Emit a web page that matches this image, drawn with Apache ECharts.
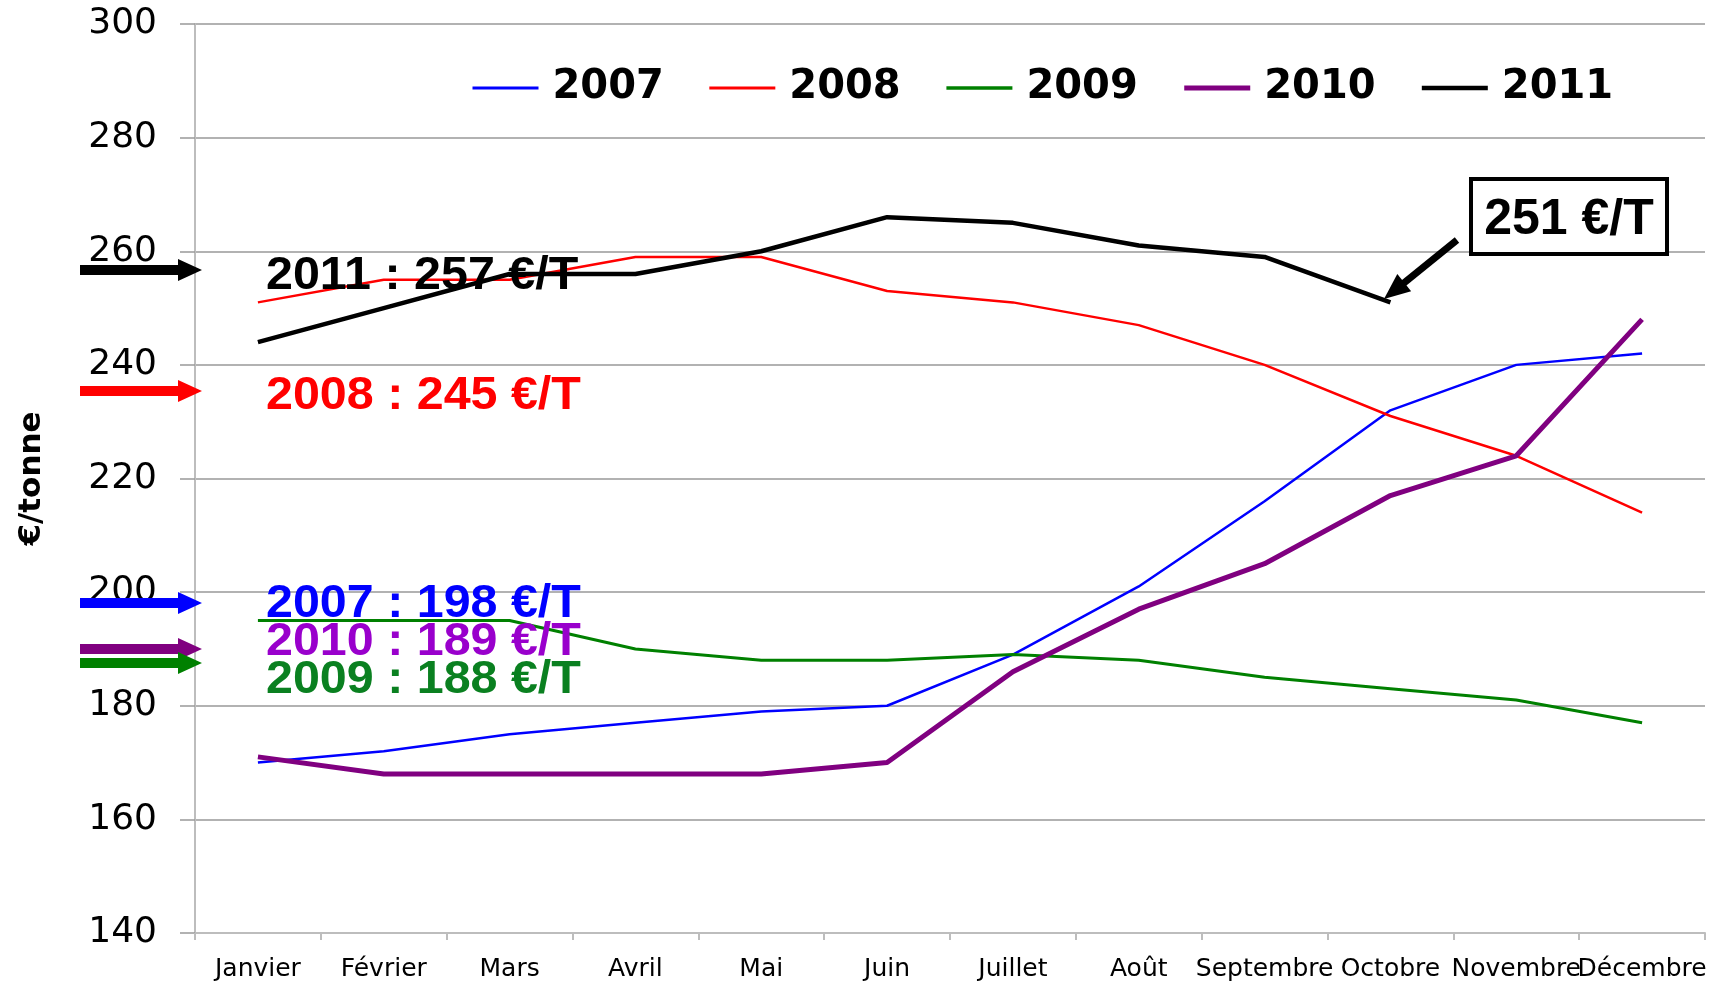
<!DOCTYPE html>
<html>
<head>
<meta charset="utf-8">
<script src="https://cdn.jsdelivr.net/npm/echarts@6/dist/echarts.min.js"></script>
<style>
  html, body { margin: 0; padding: 0; background: #fff; }
  #chart { width: 1713px; height: 984px; }
</style>
</head>
<body>
<div id="chart"></div>
<script>
const mois = ['Janvier', 'Février', 'Mars', 'Avril', 'Mai', 'Juin', 'Juillet', 'Août', 'Septembre', 'Octobre', 'Novembre', 'Décembre']
const annees = ['2007', '2008', '2009', '2010', '2011']
const ticksY = [140, 160, 180, 200, 220, 240, 260, 280, 300]

const prix2007 = [170, 172, 175, 177, 179, 180, 189, 201, 216, 232, 240, 242]
const prix2008 = [251, 255, 255, 259, 259, 253, 251, 247, 240, 231, 224, 214]
const prix2009 = [195, 195, 195, 190, 188, 188, 189, 188, 185, 183, 181, 177]
const prix2010 = [171, 168, 168, 168, 168, 170, 186, 197, 205, 217, 224, 248]
const prix2011 = [244, 250, 256, 256, 260, 266, 265, 261, 259, 251, null, null]

const couleurs = ['#0000ff', '#ff0000', '#008000', '#800080', '#000000']
const epaisseurs = [2.5, 2.5, 3, 5, 4.5]
const epaisseursLegende = [3, 3, 3.5, 5, 4.5]

// annotations a gauche : [texte, couleur texte, couleur fleche, y fleche, y texte]
const notes = [
    ['2011 : 257 €/T', '#000000', '#000000', 270, 276],
    ['2008 : 245 €/T', '#ff0000', '#ff0000', 391, 396],
    ['2007 : 198 €/T', '#0000ff', '#0000ff', 603, 604],
    ['2010 : 189 €/T', '#9900cc', '#800080', 649, 642],
    ['2009 : 188 €/T', '#0a8020', '#008000', 663, 680]
]

const flecheH = (x0, x1, y, couleur) => {
    const tete = 24, demi = 5, demiTete = 11
    return {
        type: 'polygon',
        shape: {
            points: [
                [x0, y - demi], [x1 - tete, y - demi], [x1 - tete, y - demiTete],
                [x1, y], [x1 - tete, y + demiTete], [x1 - tete, y + demi], [x0, y + demi]
            ]
        },
        style: { fill: couleur },
        z: 10
    }
}

const flecheDiag = (x0, y0, x1, y1) => {
    const dx = x1 - x0, dy = y1 - y0
    const l = Math.sqrt(dx * dx + dy * dy)
    const ux = dx / l, uy = dy / l
    const nx = -uy, ny = ux
    const tete = 26, demiTete = 11
    const bx = x1 - tete * ux, by = y1 - tete * uy
    return [{
        type: 'line',
        shape: { x1: x0, y1: y0, x2: bx + ux * 2, y2: by + uy * 2 },
        style: { stroke: '#000', lineWidth: 7 },
        z: 10
    }, {
        type: 'polygon',
        shape: { points: [[x1, y1], [bx + nx * demiTete, by + ny * demiTete], [bx - nx * demiTete, by - ny * demiTete]] },
        style: { fill: '#000' },
        z: 10
    }]
}

const series = [prix2007, prix2008, prix2009, prix2010, prix2011].map((data, i) => ({
    name: annees[i],
    type: 'line',
    data: data,
    symbol: 'none',
    lineStyle: { color: couleurs[i], width: epaisseurs[i] },
    itemStyle: { color: couleurs[i] },
    z: 2 + i
}))

const graphiques = []
notes.forEach(([texte, coulTexte, coulFleche, yFleche, yTexte]) => {
    graphiques.push(flecheH(80, 202, yFleche, coulFleche))
    graphiques.push({
        type: 'text',
        x: 266,
        y: yTexte,
        scaleX: 1.03,
        style: {
            text: texte,
            fill: coulTexte,
            font: 'bold 47px "Liberation Sans", Arial, sans-serif',
            textVerticalAlign: 'middle'
        },
        z: 11
    })
})
graphiques.push({
    type: 'rect',
    shape: { x: 1471, y: 179, width: 196, height: 75 },
    style: { fill: '#fff', stroke: '#000', lineWidth: 4 },
    z: 10
})
graphiques.push({
    type: 'text',
    x: 1569,
    y: 220,
    style: {
        text: '251 €/T',
        fill: '#000',
        font: 'bold 50px "Liberation Sans", Arial, sans-serif',
        textAlign: 'center',
        textVerticalAlign: 'middle'
    },
    z: 11
})
graphiques.push(...flecheDiag(1457, 240, 1384, 299))

const chart = echarts.init(document.getElementById('chart'))
chart.setOption({
    animation: false,
    backgroundColor: '#fff',
    grid: { left: 195, right: 8, top: 24, bottom: 51 },
    legend: {
        data: annees.map((a, i) => ({ name: a, lineStyle: { width: epaisseursLegende[i] } })),
        left: 466,
        top: 63,
        itemWidth: 66,
        itemHeight: 14,
        itemGap: 44,
        itemStyle: { opacity: 0 },
        textStyle: {
            fontFamily: '"DejaVu Sans"',
            fontWeight: 'bold',
            fontSize: 40,
            color: '#000',
            padding: [0, 0, 0, 9]
        }
    },
    xAxis: {
        type: 'category',
        data: mois,
        boundaryGap: true,
        axisLine: { lineStyle: { color: '#bdbdbd', width: 2 } },
        axisTick: { show: true, length: 7, lineStyle: { color: '#bdbdbd', width: 2 } },
        axisLabel: {
            interval: 0,
            margin: 24,
            fontFamily: '"DejaVu Sans"',
            fontSize: 25,
            color: '#000'
        },
        splitLine: { show: false }
    },
    yAxis: {
        type: 'value',
        min: ticksY[0],
        max: ticksY[ticksY.length - 1],
        interval: 20,
        name: '€/tonne',
        nameLocation: 'middle',
        nameRotate: 90,
        nameGap: 148,
        nameTextStyle: {
            fontFamily: '"DejaVu Sans"',
            fontWeight: 'bold',
            fontSize: 31,
            color: '#000'
        },
        axisLine: { show: true, lineStyle: { color: '#bdbdbd', width: 2 } },
        axisTick: { show: true, length: 15, lineStyle: { color: '#999', width: 1.5 } },
        axisLabel: {
            margin: 38,
            fontFamily: '"DejaVu Sans"',
            fontSize: 36,
            color: '#000'
        },
        splitLine: { lineStyle: { color: '#999', width: 1.5 } }
    },
    series: series,
    graphic: graphiques
})
</script>
</body>
</html>
